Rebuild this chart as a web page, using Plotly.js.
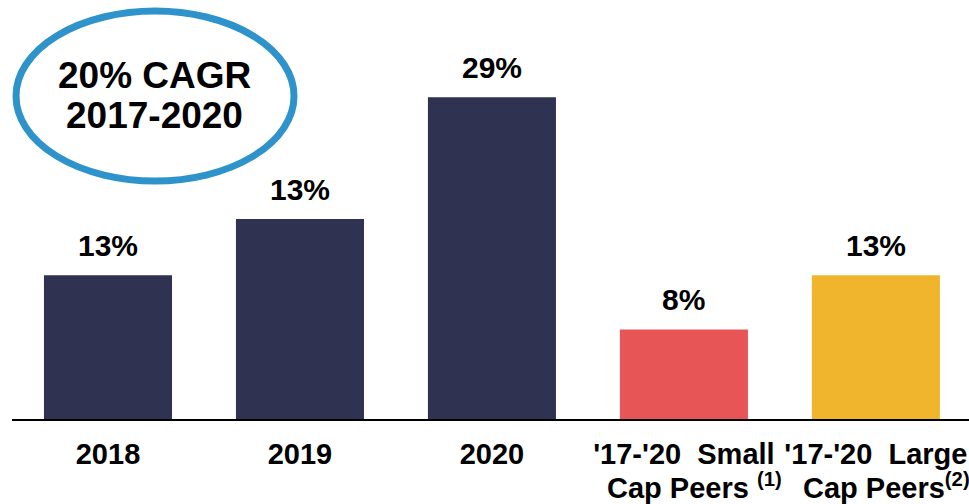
<!DOCTYPE html>
<html>
<head>
<meta charset="utf-8">
<script src="https://cdn.plot.ly/plotly-3.0.1.min.js"></script>
<style>html,body{margin:0;padding:0;background:#fff;}#chart{width:969px;height:504px;}</style>
</head>
<body>
<div id="chart"></div>
<script>
// ---- data ----
const categories = ['2018', '2019', '2020', 'Small Cap Peers', 'Large Cap Peers'];
const barValues = [13.0, 18.1, 29.1, 8.1, 13.0];
const valueLabels = ['13%', '13%', '29%', '8%', '13%'];
const tickLine1 = ['2018', '2019', '2020', "'17-'20\u00a0 Small", "'17-'20\u00a0 Large"];
const tickLine2 = ['', '', '', 'Cap Peers <sup>(1)</sup>', 'Cap Peers<sup>(2)</sup>'];
const barColors = ['#2F3250', '#2F3250', '#2F3250', '#E85556', '#F0B52C'];
const calloutLines = ['20% CAGR', '2017-2020'];

const FONT = '"Liberation Sans", Arial, Helvetica, sans-serif';

const trace = {
  type: 'bar',
  x: categories,
  y: barValues,
  marker: { color: barColors, line: { width: 0 } },
  hoverinfo: 'skip'
};

const annotations = [];
categories.forEach((c, i) => {
  // category axis: annotation x given as the category index
  annotations.push({
    x: i, y: barValues[i], xref: 'x', yref: 'y',
    text: valueLabels[i], showarrow: false,
    xanchor: 'center', yanchor: 'bottom', yshift: 11,
    font: { family: FONT, size: 30, color: '#000', weight: 700 }
  });
  if (tickLine2[i]) {
    annotations.push({
      x: i, y: -0.161, xref: 'x', yref: 'paper',
      text: tickLine2[i], showarrow: false,
      xanchor: 'center', yanchor: 'middle', xshift: 11,
      font: { family: FONT, size: 29, color: '#000', weight: 700 }
    });
  }
});
const calloutY = [0.8198, 0.7232];
calloutLines.forEach((t, i) => {
  annotations.push({
    x: 0.1484, y: calloutY[i], xref: 'paper', yref: 'paper',
    text: t, showarrow: false, xanchor: 'center', yanchor: 'middle',
    font: { family: FONT, size: 37, color: '#000', weight: 700 }
  });
});

const layout = {
  width: 969, height: 504,
  margin: { l: 12, r: 0, t: 0, b: 85, pad: 0 },
  paper_bgcolor: '#fff', plot_bgcolor: '#fff',
  showlegend: false,
  bargap: 0.333,
  font: { family: FONT, color: '#000' },
  xaxis: {
    type: 'category',
    range: [-0.5, 4.485],
    tickvals: categories,
    ticktext: tickLine1,
    ticks: '',
    showline: true, linecolor: '#000', linewidth: 2,
    showgrid: false, zeroline: false,
    tickfont: { family: FONT, size: 29, color: '#000', weight: 700 },
    ticklabelstandoff: 8
  },
  yaxis: {
    range: [0, 37.9],
    visible: false, showgrid: false, zeroline: false
  },
  shapes: [{
    type: 'circle', xref: 'paper', yref: 'paper',
    x0: 0.0042, x1: 0.2947, y0: 0.568, y1: 0.9737,
    line: { color: '#2E93CA', width: 7 },
    fillcolor: 'rgba(0,0,0,0)'
  }],
  annotations: annotations
};

Plotly.newPlot('chart', [trace], layout, { staticPlot: true, displayModeBar: false });
</script>
</body>
</html>
